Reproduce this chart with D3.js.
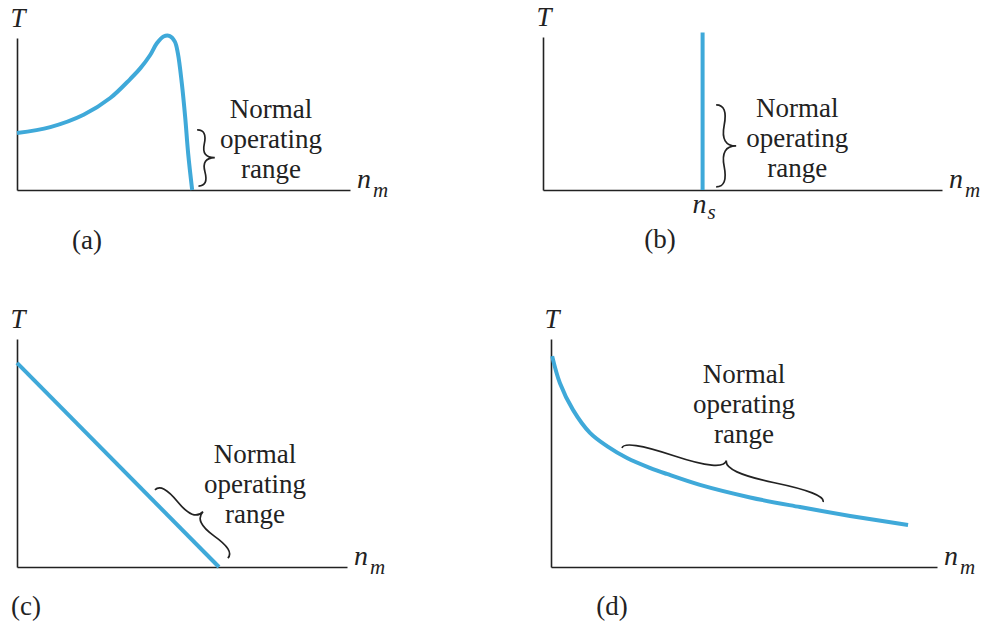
<!DOCTYPE html>
<html>
<head>
<meta charset="utf-8">
<script src="https://cdn.jsdelivr.net/npm/d3@7"></script>
<style>
  body { margin: 0; background: #fff; }
  svg { display: block; }
</style>
</head>
<body>
<svg id="fig" width="986" height="624"></svg>
<script>
(function(){

  // (a) induction motor: speed in % of axis, torque in % of axis
  var curveA_nm = [0, 10, 20, 28, 34, 37, 40, 42, 44, 45.9, 47.4, 48.3, 49.5, 50.5, 51.4, 52.6]
  var curveA_T  = [37.5, 41.4, 49.5, 60.5, 73, 80, 88.8, 96.5, 101, 101.3, 97.6, 90, 70, 48, 24, 0]

  // (b) synchronous motor: constant speed n_s
  var nsSpeed = 40
  var lineB_T = [0, 103]

  // (c) straight line
  var lineC_nm = [0, 61.2]
  var lineC_T  = [89.5, 0]

  // (d) hyperbolic curve
  var curveD_nm = [0.3, 2.3, 5.7, 10.1, 14.5, 19.7, 25.6, 30, 38.6, 51.6, 64.5, 77.5, 92.5]
  var curveD_T  = [92.5, 80.7, 68.9, 58.8, 53, 47.8, 43.5, 40.8, 36, 30.5, 26.3, 22.4, 18.4]

  var panelLabels = ['(a)', '(b)', '(c)', '(d)']
  var rangeLines = ['Normal', 'operating', 'range']

  var BLUE = '#3fa9d9'
  var INK = '#222'
  var SERIF = 'Liberation Serif'

  var panels = [
    { left: 17,  right: 350, top: 38,  bottom: 190, label: [87, 249],
      text: [76.3, 47.4], brace: [[54.5, 2.6], [54.1, 39.5]], braceW: 17 },
    { left: 543, right: 942, top: 37,  bottom: 190, label: [660, 248],
      text: [63.7, 47.7], brace: [[43.4, 2.0], [43.4, 55.6]], braceW: 20 },
    { left: 17,  right: 347, top: 339, bottom: 567, label: [26, 615],
      text: [72.1, 45.6], brace: [[63.9, 3.9], [41.8, 33.8]], braceW: 17 },
    { left: 551, right: 937, top: 339, bottom: 567, label: [612, 615],
      text: [50, 80.7], brace: [[70.5, 28.5], [18.4, 52.2]], braceW: 15 }
  ]

  var svg = d3.select('#fig')

  function brace(x1, y1, x2, y2, w, q) {
    var dx = x1 - x2, dy = y1 - y2
    var len = Math.sqrt(dx * dx + dy * dy)
    dx = dx / len; dy = dy / len
    var qx1 = x1 + q * w * dy, qy1 = y1 - q * w * dx
    var qx2 = (x1 - .25 * len * dx) + (1 - q) * w * dy
    var qy2 = (y1 - .25 * len * dy) - (1 - q) * w * dx
    var tx1 = (x1 - .5 * len * dx) + w * dy
    var ty1 = (y1 - .5 * len * dy) - w * dx
    var qx3 = x2 + q * w * dy, qy3 = y2 - q * w * dx
    var qx4 = (x1 - .75 * len * dx) + (1 - q) * w * dy
    var qy4 = (y1 - .75 * len * dy) - (1 - q) * w * dx
    return 'M' + x1 + ',' + y1 + 'Q' + qx1 + ',' + qy1 + ' ' + qx2 + ',' + qy2 +
      'T' + tx1 + ',' + ty1 +
      'M' + x2 + ',' + y2 + 'Q' + qx3 + ',' + qy3 + ' ' + qx4 + ',' + qy4 +
      'T' + tx1 + ',' + ty1
  }

  panels.forEach(function (p, i) {
    p.x = d3.scaleLinear().domain([0, 100]).range([p.left, p.right])
    p.y = d3.scaleLinear().domain([0, 100]).range([p.bottom, p.top])

    var g = svg.append('g')

    // axes, no ticks
    g.append('g')
      .attr('transform', 'translate(0,' + p.bottom + ')')
      .call(d3.axisBottom(p.x).tickValues([]).tickSizeOuter(0))
      .call(function (a) { a.select('.domain').attr('stroke', INK).attr('stroke-width', 1.6) })
    g.append('g')
      .attr('transform', 'translate(' + p.left + ',0)')
      .call(d3.axisLeft(p.y).tickValues([]).tickSizeOuter(0))
      .call(function (a) { a.select('.domain').attr('stroke', INK).attr('stroke-width', 1.6) })

    // T label
    g.append('text')
      .attr('x', p.left + 1)
      .attr('y', p.top - 11)
      .attr('text-anchor', 'middle')
      .attr('font-family', SERIF)
      .attr('font-style', 'italic')
      .attr('font-size', 27)
      .attr('fill', INK)
      .text('T')

    // n_m label
    var nm = g.append('text')
      .attr('x', p.right + 7)
      .attr('y', p.bottom - 2)
      .attr('font-family', SERIF)
      .attr('font-style', 'italic')
      .attr('font-size', 28)
      .attr('fill', INK)
    nm.append('tspan').text('n')
    nm.append('tspan').attr('dx', 2).attr('dy', 9).attr('font-size', 21).text('m')

    // panel letter
    g.append('text')
      .attr('x', p.label[0])
      .attr('y', p.label[1])
      .attr('text-anchor', 'middle')
      .attr('font-family', SERIF)
      .attr('font-size', 27)
      .attr('fill', INK)
      .text(panelLabels[i])

    // Normal operating range
    g.append('g').selectAll('text')
      .data(rangeLines)
      .join('text')
      .attr('x', p.x(p.text[0]))
      .attr('y', function (d, k) { return p.y(p.text[1]) + k * 30 })
      .attr('text-anchor', 'middle')
      .attr('font-family', SERIF)
      .attr('font-size', 27)
      .attr('fill', INK)
      .text(function (d) { return d })

    g.append('path')
      .attr('d', brace(p.x(p.brace[0][0]), p.y(p.brace[0][1]),
                       p.x(p.brace[1][0]), p.y(p.brace[1][1]), p.braceW, 0.6))
      .attr('fill', 'none')
      .attr('stroke', INK)
      .attr('stroke-width', 1.7)
  })

  function drawLine(p, xs, ys, curve) {
    var line = d3.line()
      .x(function (d) { return p.x(d[0]) })
      .y(function (d) { return p.y(d[1]) })
      .curve(curve)
    svg.append('path')
      .attr('d', line(d3.zip(xs, ys)))
      .attr('fill', 'none')
      .attr('stroke', BLUE)
      .attr('stroke-width', 4)
      .attr('stroke-linejoin', 'round')
  }

  drawLine(panels[0], curveA_nm, curveA_T, d3.curveCatmullRom)
  drawLine(panels[1], [nsSpeed, nsSpeed], lineB_T, d3.curveLinear)
  drawLine(panels[2], lineC_nm, lineC_T, d3.curveLinear)
  drawLine(panels[3], curveD_nm, curveD_T, d3.curveCatmullRom)

  // n_s under the vertical line
  var pb = panels[1]
  var ns = svg.append('text')
    .attr('x', pb.x(nsSpeed) - 10)
    .attr('y', pb.bottom + 23)
    .attr('font-family', SERIF)
    .attr('font-style', 'italic')
    .attr('font-size', 28)
    .attr('fill', INK)
  ns.append('tspan').text('n')
  ns.append('tspan').attr('dx', 1).attr('dy', 6).attr('font-size', 21).text('s')

})()
</script>
</body>
</html>
